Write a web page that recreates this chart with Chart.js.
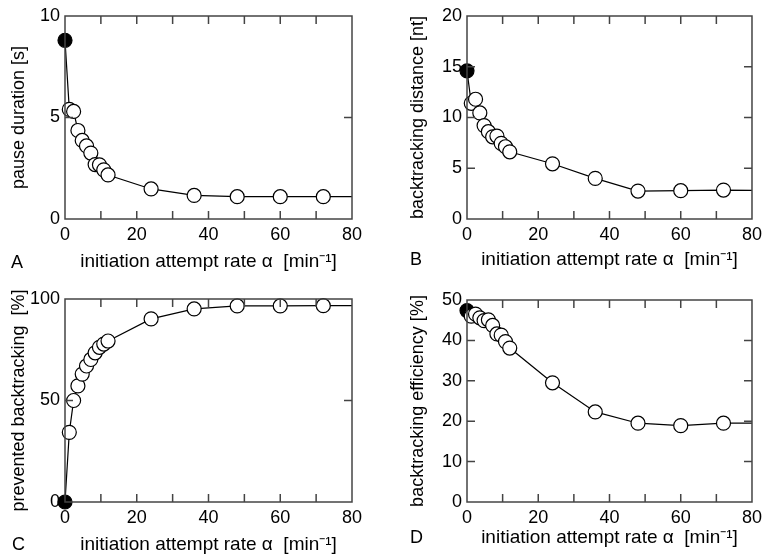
<!DOCTYPE html>
<html>
<head>
<meta charset="utf-8">
<script src="https://cdn.jsdelivr.net/npm/chart.js@4.4.1/dist/chart.umd.min.js"></script>
<style>
  body { margin: 0; background: #fff; }
  #wrap { position: relative; width: 767px; height: 560px; }
  canvas { position: absolute; }
</style>
</head>
<body>
<div id="wrap">
  <canvas id="pA" width="383" height="280" style="left:0;top:0"></canvas>
  <canvas id="pB" width="384" height="280" style="left:383px;top:0"></canvas>
  <canvas id="pC" width="383" height="280" style="left:0;top:280px"></canvas>
  <canvas id="pD" width="384" height="280" style="left:383px;top:280px"></canvas>
</div>
<script>
// initiation attempt rate alpha [min^-1]; last value lies past the axis end
const alpha = [0, 1.2, 2.4, 3.6, 4.8, 6, 7.2, 8.4, 9.6, 10.8, 12, 24, 36, 48, 60, 72, 84];

const pauseDuration = [8.8, 5.4, 5.3, 4.36, 3.87, 3.6, 3.25, 2.68, 2.67, 2.42, 2.17, 1.48, 1.16, 1.1, 1.1, 1.1, 1.1];
const backtrackDistance = [14.6, 11.4, 11.8, 10.45, 9.2, 8.6, 8.1, 8.17, 7.45, 7.12, 6.62, 5.44, 4.0, 2.75, 2.79, 2.85, 2.8];
const preventedBacktracking = [0, 34.3, 50, 57.2, 63, 67, 70.2, 73.5, 76.2, 77.8, 79.3, 90.2, 95.1, 96.6, 96.6, 96.7, 96.7];
const backtrackEfficiency = [47.4, 46.0, 46.5, 45.6, 44.9, 45.1, 43.7, 41.6, 41.3, 39.7, 38.1, 29.5, 22.3, 19.5, 18.9, 19.5, 19.5];

const xTickLabels = [0, 20, 40, 60, 80];
const xTickMarks = [10, 20, 30, 40, 50, 60, 70];
const yTicksA = [0, 5, 10];
const yTicksB = [0, 5, 10, 15, 20];
const yTicksC = [0, 50, 100];
const yTicksD = [0, 10, 20, 30, 40, 50];

const xTitle = 'initiation attempt rate \u03b1  [min\u207b\u00b9]';
const FONT = '"Liberation Sans", Arial, Helvetica, sans-serif';

// frame, inward ticks on all four sides, panel letter
const frameTicks = {
  id: 'frameTicks',
  afterDatasetsDraw(chart, args, opts) {
    const { ctx, chartArea: a, scales: { x, y } } = chart;
    const L = 8;
    ctx.save();
    ctx.strokeStyle = '#444';
    ctx.lineWidth = 1.5;
    ctx.strokeRect(a.left, a.top, a.right - a.left, a.bottom - a.top);
    ctx.beginPath();
    for (const v of xTickMarks) {
      const px = x.getPixelForValue(v);
      ctx.moveTo(px, a.bottom); ctx.lineTo(px, a.bottom - L);
      ctx.moveTo(px, a.top); ctx.lineTo(px, a.top + L);
    }
    for (const v of opts.yTicks) {
      const py = y.getPixelForValue(v);
      if (py <= a.top + 1 || py >= a.bottom - 1) continue;
      ctx.moveTo(a.left, py); ctx.lineTo(a.left + L, py);
      ctx.moveTo(a.right, py); ctx.lineTo(a.right - L, py);
    }
    ctx.stroke();
    ctx.fillStyle = '#000';
    ctx.font = '18px ' + FONT;
    ctx.textBaseline = 'alphabetic';
    ctx.fillText(opts.letter, opts.lx, opts.ly);
    ctx.restore();
  }
};

function makePanel(id, values, yTicks, yTitle, letter, lay) {
  new Chart(document.getElementById(id), {
    type: 'line',
    data: {
      datasets: [{
        data: alpha.map((a, i) => ({ x: a, y: values[i] })),
        borderColor: '#000',
        borderWidth: 1.2,
        tension: 0,
        pointRadius: (c) => (c.dataIndex === alpha.length - 1 ? 0 : 7),
        pointBorderWidth: 1.2,
        pointBorderColor: '#000',
        pointBackgroundColor: (c) => (c.dataIndex === 0 ? '#000' : '#fff'),
        clip: { left: false, top: false, right: 0, bottom: false },
      }],
    },
    options: {
      responsive: false,
      animation: false,
      events: [],
      layout: { padding: { left: 0, right: lay.right, top: lay.top, bottom: 0 } },
      plugins: {
        legend: { display: false },
        tooltip: { enabled: false },
        frameTicks: { yTicks, letter, lx: lay.lx, ly: lay.ly },
      },
      scales: {
        x: {
          type: 'linear',
          min: 0,
          max: 80,
          grid: { display: false, drawTicks: false },
          border: { display: false },
          afterBuildTicks: (s) => { s.ticks = xTickLabels.map((v) => ({ value: v })); },
          afterFit: (s) => { s.height = lay.xh; },
          ticks: { color: '#000', font: { family: FONT, size: 18 }, padding: 5, maxRotation: 0, autoSkip: false },
          title: { display: true, text: xTitle, color: '#000', font: { family: FONT, size: 19 }, padding: { top: 0, bottom: lay.xtp } },
        },
        y: {
          type: 'linear',
          min: yTicks[0],
          max: yTicks[yTicks.length - 1],
          grid: { display: false, drawTicks: false },
          border: { display: false },
          afterBuildTicks: (s) => { s.ticks = yTicks.map((v) => ({ value: v })); },
          afterFit: (s) => { s.width = lay.yw; },
          ticks: { color: '#000', font: { family: FONT, size: 18 }, padding: 5, autoSkip: false },
          title: { display: true, text: yTitle, color: '#000', font: { family: FONT, size: 18 }, padding: { top: lay.ytp, bottom: 0 } },
        },
      },
    },
    plugins: [frameTicks],
  });
}

makePanel('pA', pauseDuration, yTicksA, 'pause duration [s]', 'A',
  { right: 31, top: 16, xh: 61, yw: 65, xtp: 7, ytp: 8, lx: 11, ly: 268 });
makePanel('pB', backtrackDistance, yTicksB, 'backtracking distance [nt]', 'B',
  { right: 12, top: 16, xh: 61, yw: 84, xtp: 9, ytp: 24, lx: 27, ly: 265 });
makePanel('pC', preventedBacktracking, yTicksC, 'prevented backtracking  [%]', 'C',
  { right: 31, top: 19, xh: 58, yw: 65, xtp: 4, ytp: 8, lx: 12, ly: 270 });
makePanel('pD', backtrackEfficiency, yTicksD, 'backtracking efficiency [%]', 'D',
  { right: 12, top: 20, xh: 58, yw: 84, xtp: 11, ytp: 24, lx: 27, ly: 263 });
</script>
</body>
</html>
